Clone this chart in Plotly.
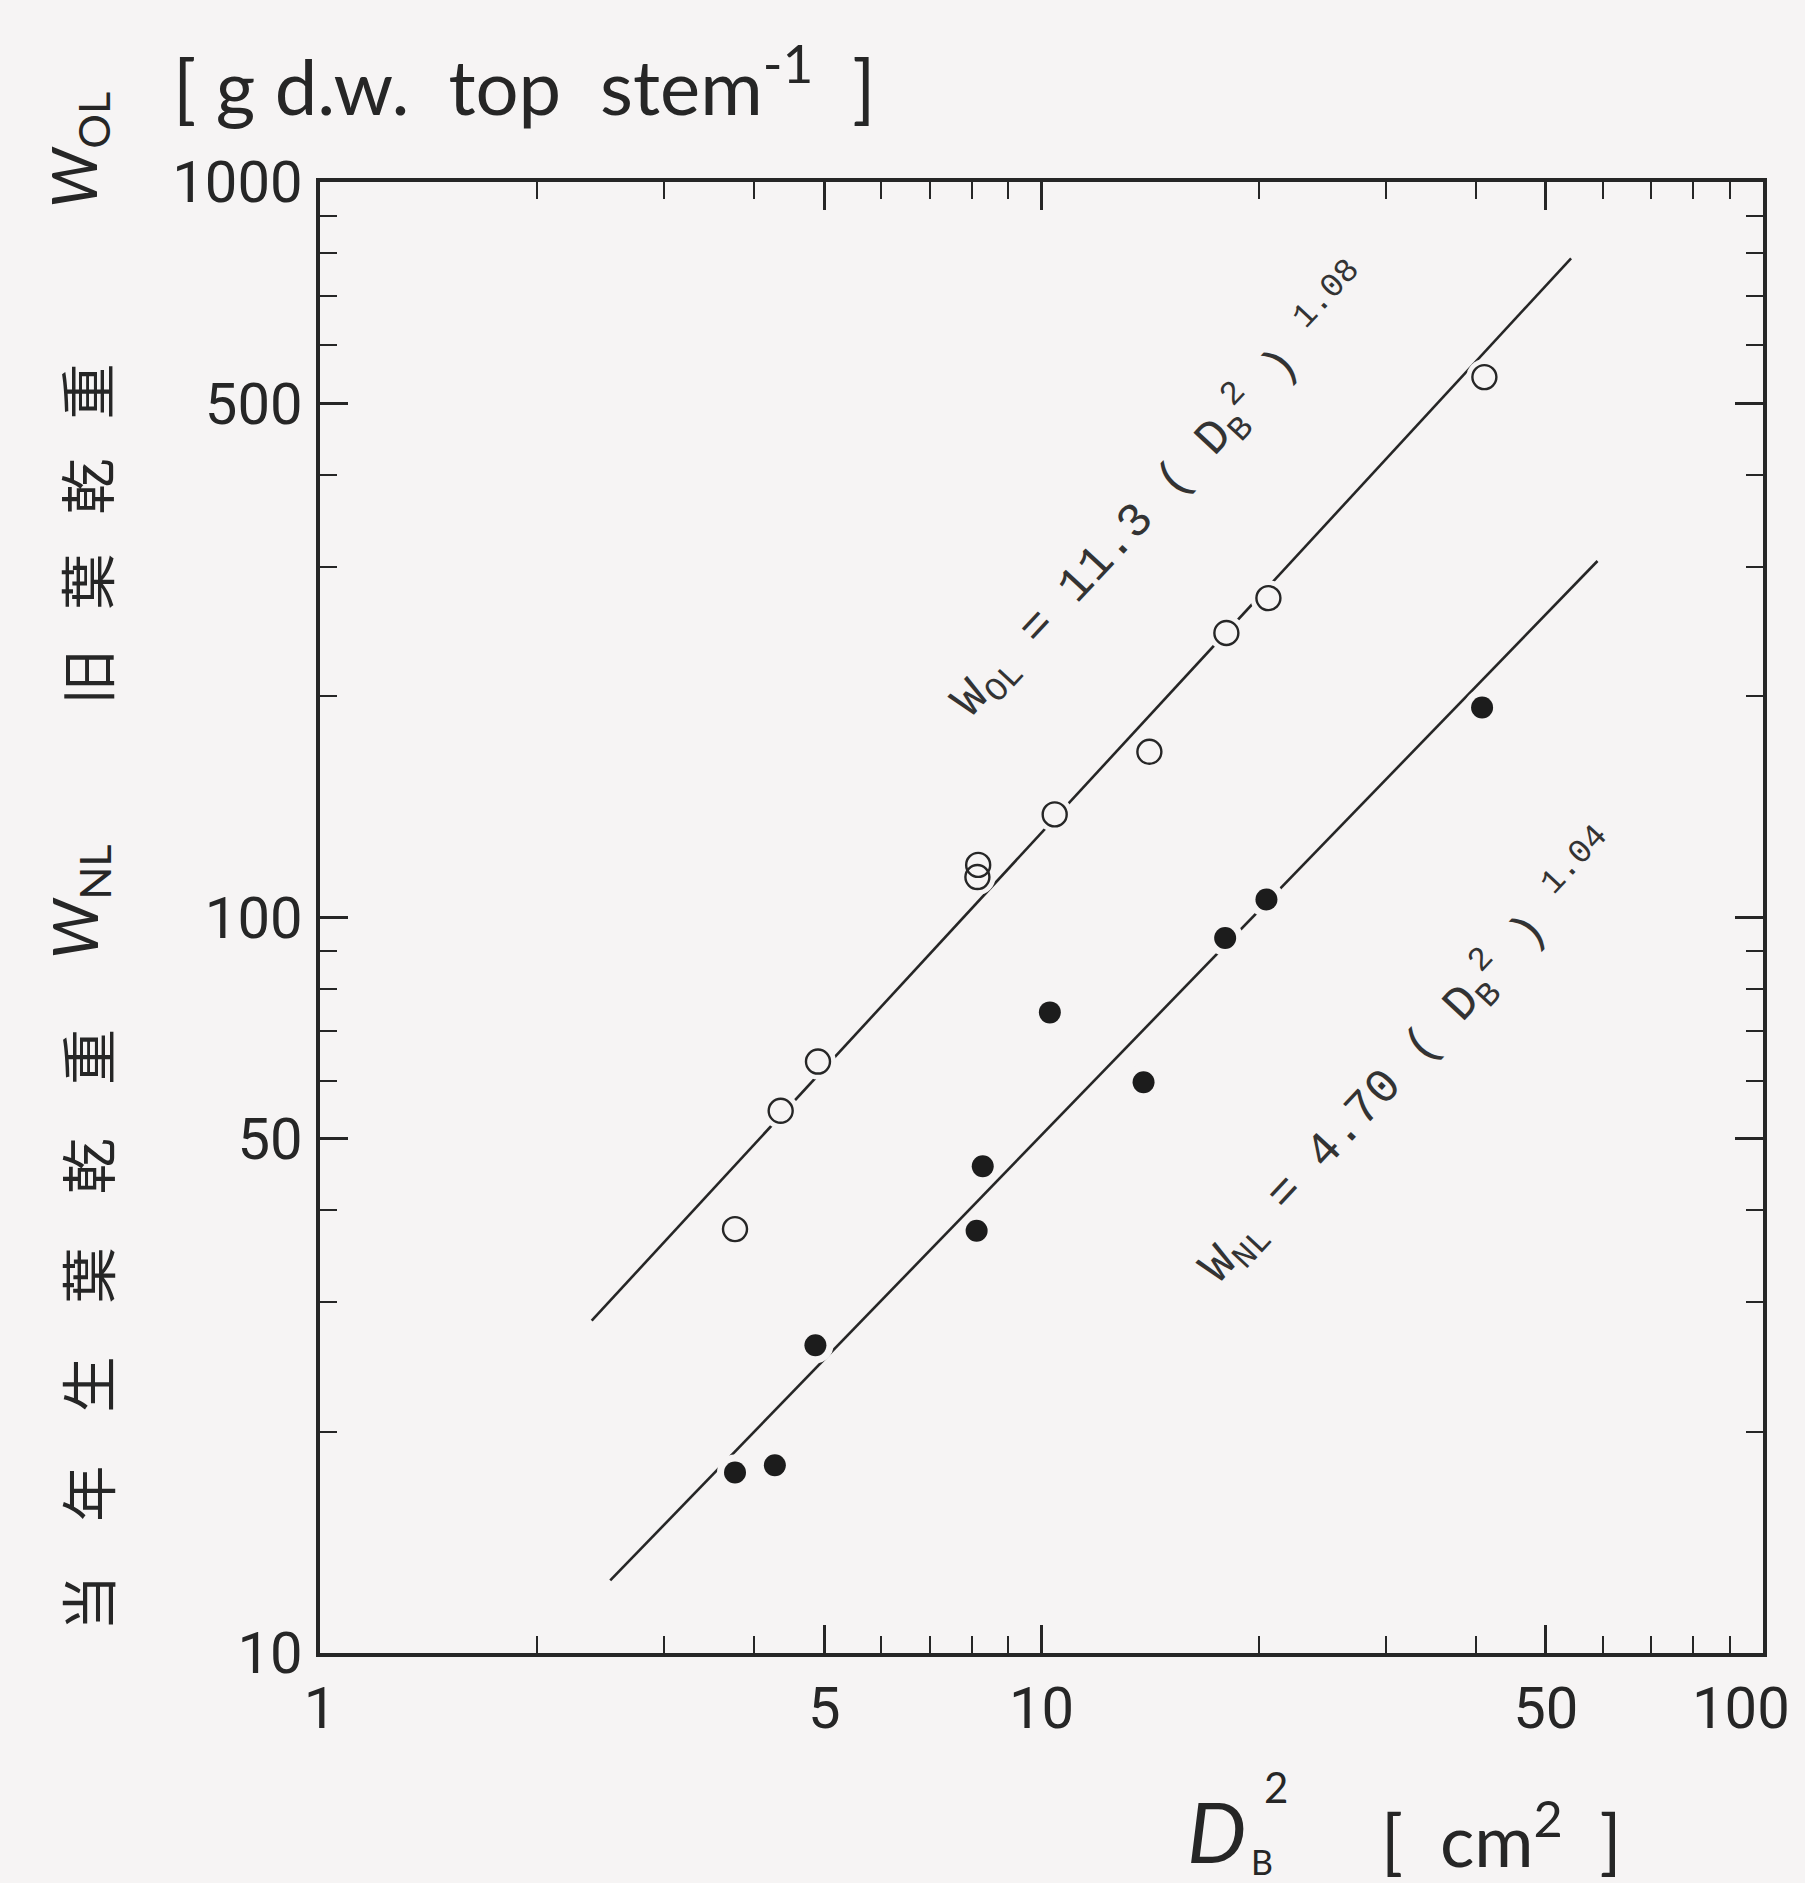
import plotly.graph_objects as go

# ---- data ----
ol_x = [3.76, 4.35, 4.90, 8.15, 8.17, 10.43, 14.11, 18.04, 20.63, 41.1]
ol_y = [37.7, 54.6, 63.7, 113.5, 117.9, 138.1, 168.0, 243.7, 271.8, 542.9]
nl_x = [3.76, 4.27, 4.86, 8.13, 8.29, 10.27, 13.85, 17.97, 20.5, 40.8]
nl_y = [17.6, 18.0, 26.2, 37.5, 45.9, 74.3, 59.7, 93.8, 105.8, 193.0]
ol_line_x = [2.38, 54.2]
ol_line_y = [28.3, 787.6]
nl_line_x = [2.525, 58.97]
nl_line_y = [12.55, 305.3]

x_major = [1, 5, 10, 50, 100]
x_major_text = ["1", "5", "10", "50", ""]
x_last_label = "100"
x_minor = [2, 3, 4, 6, 7, 8, 9, 20, 30, 40, 60, 70, 80, 90]
y_major = [10, 50, 100, 500, 1000]
y_major_text = ["10", "50", "100", "500", "1000"]
y_minor = [20, 30, 40, 60, 70, 80, 90, 200, 300, 400, 600, 700, 800, 900]

BG = "#f6f4f4"
INK = "#262626"

W, H = 1805, 1883
L, R, T, B = 320, 42, 182, 230
PW, PH = W - L - R, H - T - B


def px(x):
    return (x - L) / PW


def py(y):
    return (H - B - y) / PH


fig = go.Figure()

fig.add_trace(go.Scatter(x=ol_line_x, y=ol_line_y, mode="lines",
                         line=dict(color=INK, width=2.6), hoverinfo="skip"))
fig.add_trace(go.Scatter(x=nl_line_x, y=nl_line_y, mode="lines",
                         line=dict(color=INK, width=2.6), hoverinfo="skip"))
# background-coloured halos to break the lines around the points
fig.add_trace(go.Scatter(x=ol_x + nl_x, y=ol_y + nl_y, mode="markers",
                         marker=dict(symbol="circle", size=36, color=BG,
                                     line=dict(width=0)), hoverinfo="skip"))
fig.add_trace(go.Scatter(x=ol_x, y=ol_y, mode="markers",
                         marker=dict(symbol="circle-open", size=24, color=INK,
                                     line=dict(width=2.4))))
fig.add_trace(go.Scatter(x=nl_x, y=nl_y, mode="markers",
                         marker=dict(symbol="circle", size=22, color="#1c1c1c",
                                     line=dict(width=0))))

TICKFONT = dict(family="Roboto", size=58, color=INK)

axis_common = dict(
    type="log", showgrid=False, zeroline=False, showline=True,
    linecolor=INK, linewidth=3.5, mirror="allticks",
    ticks="inside", ticklen=28, tickwidth=2.5, tickcolor=INK,
    tickfont=TICKFONT,
    ticklabeloverflow="allow", automargin=False,
)

fig.update_layout(
    width=W, height=H,
    margin=dict(l=L, r=R, t=T, b=B, autoexpand=False),
    paper_bgcolor=BG, plot_bgcolor=BG,
    showlegend=False,
    xaxis=dict(axis_common, range=[0, 2], tickmode="array",
               tickvals=x_major, ticktext=x_major_text,
               ticklabelstandoff=2,
               minor=dict(tickmode="array", tickvals=x_minor, ticks="inside",
                          ticklen=17, tickwidth=2.2, tickcolor=INK)),
    yaxis=dict(axis_common, range=[1, 3], tickmode="array",
               tickvals=y_major, ticktext=y_major_text,
               ticklabelstandoff=2,
               minor=dict(tickmode="array", tickvals=y_minor, ticks="inside",
                          ticklen=17, tickwidth=2.2, tickcolor=INK)),
)

ann = []
# last x tick label, set slightly left of the axis end as in the original
ann.append(dict(text=x_last_label, x=px(1741), y=py(1708), font=TICKFONT))
# unit label at top
ann.append(dict(text="[ g d.w.  top  stem<sup>-1</sup>  ]", x=px(524), y=py(80),
                font=dict(family="Lato", size=76, color=INK)))
# y-axis title pieces (rotated)
sp_lo = "\u2002\u2005\u2009"
sp_hi = "\u2002\u2009"
ann.append(dict(text=sp_lo.join("当年生葉乾重"), x=px(85), y=py(1330), textangle=-90,
                font=dict(family="Noto Sans CJK JP", size=56, color=INK)))
ann.append(dict(text="<i>W</i><sub>NL</sub>", x=px(78), y=py(902), textangle=-90,
                font=dict(family="Lato", size=62, color=INK)))
ann.append(dict(text=sp_hi.join("旧葉乾重"), x=px(84), y=py(534), textangle=-90,
                font=dict(family="Noto Sans CJK JP", size=56, color=INK)))
ann.append(dict(text="<i>W</i><sub>OL</sub>", x=px(78), y=py(150), textangle=-90,
                font=dict(family="Lato", size=62, color=INK)))
# x-axis title pieces
ann.append(dict(text="<i>D</i>", x=px(1216), y=py(1830),
                font=dict(family="Lato", size=84, color=INK)))
ann.append(dict(text="B", x=px(1262), y=py(1861),
                font=dict(family="Lato", size=34, color=INK)))
ann.append(dict(text="2", x=px(1276), y=py(1787),
                font=dict(family="Lato", size=42, color=INK)))
ann.append(dict(text="[  cm<sup>2</sup>  ]", x=px(1501), y=py(1834),
                font=dict(family="Lato", size=72, color=INK)))
# regression equations
ann.append(dict(text="W<sub>OL</sub> = 11.3 ( D<sub>B</sub><sup>2</sup> ) <sup>1.08</sup>",
                x=px(1162), y=py(492), textangle=-47,
                font=dict(family="Liberation Mono", size=48, color="#333333")))
ann.append(dict(text="W<sub>NL</sub> = 4.70 ( D<sub>B</sub><sup>2</sup> ) <sup>1.04</sup>",
                x=px(1410), y=py(1058), textangle=-47,
                font=dict(family="Liberation Mono", size=48, color="#333333")))

for a in ann:
    a.update(xref="paper", yref="paper", showarrow=False,
             xanchor="center", yanchor="middle")
fig.update_layout(annotations=ann)

fig.write_html("out.html")
